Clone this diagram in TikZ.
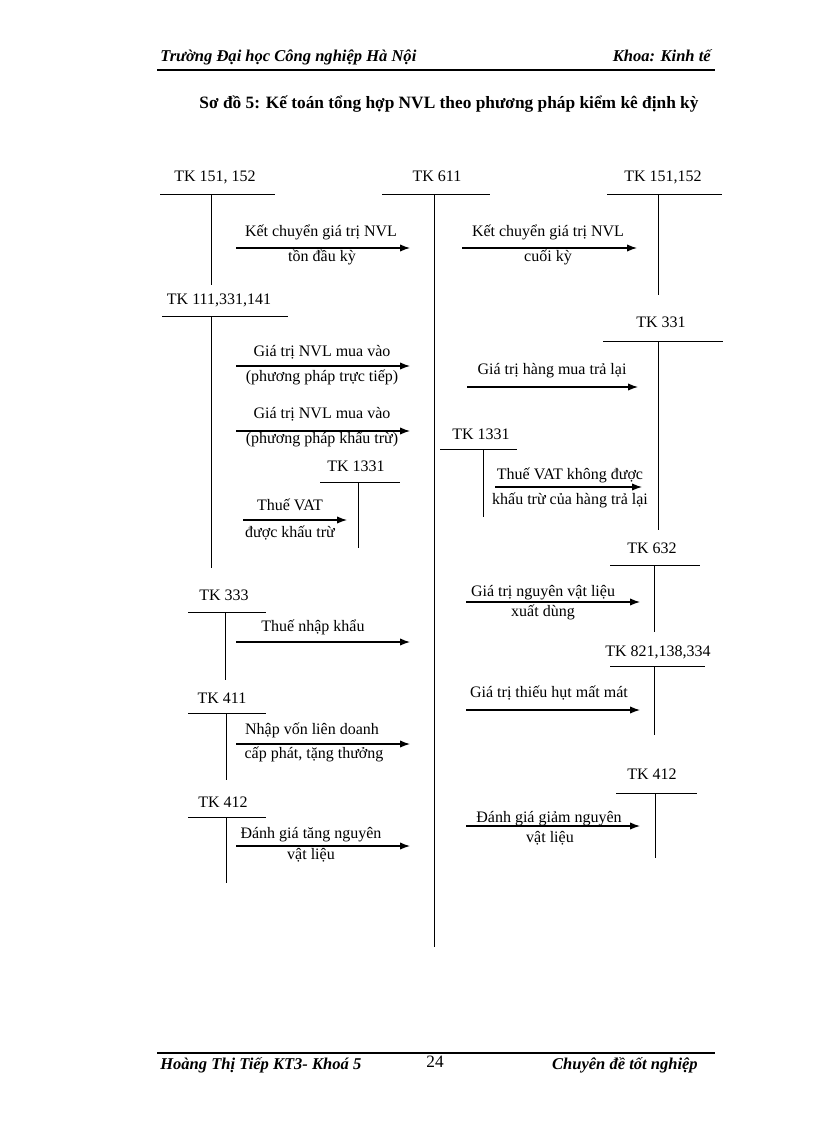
\documentclass[tikz,border=0pt]{standalone}
\usepackage{fontspec}
\setmainfont{Liberation Serif}
\usetikzlibrary{arrows.meta}
\begin{document}
\begin{tikzpicture}[x=0.75pt,y=-0.75pt,
  lbl/.style={font=\fontsize{12}{14}\selectfont, inner sep=0pt, text height=8.5pt, text depth=2.5pt},
  hdr/.style={font=\fontsize{12.4}{14}\selectfont\bfseries\itshape, inner sep=0pt, text height=8.5pt, text depth=2.5pt},
  ttl/.style={font=\fontsize{13}{15}\selectfont\bfseries, inner sep=0pt, text height=9pt, text depth=3pt},
  acc/.style={line width=0.75pt},
  rule/.style={line width=1.6pt},
  arr/.style={line width=0.9pt,-{Latex[length=7.5pt,width=5.5pt]}}]
\useasboundingbox (0,0) rectangle (816,1123);
% header / footer
\node[hdr,anchor=west] (hl) at (160,58) {Trường Đại học Công nghiệp Hà Nội};
\node[hdr,anchor=east] (hr) at (711,58) {Khoa: Kinh tế};
\draw[rule] (157,70) -- (715,70);
\node[ttl] (title) at (449,105) {Sơ đồ 5: Kế toán tổng hợp NVL theo phương pháp kiểm kê định kỳ};
\draw[rule] (157,1053) -- (715,1053);
\node[hdr,anchor=west] (fl) at (160,1065) {Hoàng Thị Tiếp KT3- Khoá 5};
\node[lbl,font=\fontsize{13}{15}\selectfont] (pg) at (435,1063) {24};
\node[hdr,anchor=east] (fr) at (698,1065) {Chuyên đề tốt nghiệp};

% T-accounts
\node[lbl] (t1) at (215,178) {TK 151, 152};
\draw[acc] (160,195) -- (275,195) (211,195) -- (211,285);
\node[lbl] (t2) at (437,178) {TK 611};
\draw[acc] (382,195) -- (490,195) (434,195) -- (434,947);
\node[lbl] (t3) at (663,178) {TK 151,152};
\draw[acc] (607,195) -- (722,195) (658,195) -- (658,295);
\node[lbl] (t4) at (219,300) {TK 111,331,141};
\draw[acc] (162,316) -- (288,316) (211,316) -- (211,568);
\node[lbl] (t5) at (356,467) {TK 1331};
\draw[acc] (320,482) -- (400,482) (358,482) -- (358,548);
\node[lbl] (t6) at (661,323) {TK 331};
\draw[acc] (603,341) -- (723,341) (658,341) -- (658,530);
\node[lbl] (t7) at (481,435) {TK 1331};
\draw[acc] (440,449) -- (517,449) (483,449) -- (483,517);
\node[lbl] (t8) at (652,549) {TK 632};
\draw[acc] (610,565) -- (700,565) (654,565) -- (654,632);
\node[lbl] (t9) at (224,596) {TK 333};
\draw[acc] (188,612) -- (266,612) (225,612) -- (225,680);
\node[lbl] (t10) at (222,699) {TK 411};
\draw[acc] (188,713) -- (266,713) (226,713) -- (226,780);
\node[lbl] (t11) at (223,803) {TK 412};
\draw[acc] (188,817) -- (266,817) (226,817) -- (226,883);
\node[lbl] (t12) at (658,652) {TK 821,138,334};
\draw[acc] (610,666) -- (705,666) (654,666) -- (654,735);
\node[lbl] (t13) at (652,775) {TK 412};
\draw[acc] (616,793) -- (697,793) (655,793) -- (655,858);

% arrows: start/end coordinates
\coordinate (a1s) at (236,248); \coordinate (a1e) at (410,248);
\coordinate (a2s) at (462,248); \coordinate (a2e) at (637,248);
\coordinate (a3s) at (236,366); \coordinate (a3e) at (410,366);
\coordinate (a4s) at (236,431); \coordinate (a4e) at (410,431);
\coordinate (a5s) at (243,520); \coordinate (a5e) at (347,520);
\coordinate (a6s) at (467,387); \coordinate (a6e) at (638,387);
\coordinate (a7s) at (495,487); \coordinate (a7e) at (642,487);
\coordinate (a8s) at (466,602); \coordinate (a8e) at (640,602);
\coordinate (a9s) at (236,642); \coordinate (a9e) at (410,642);
\coordinate (a10s) at (236,744); \coordinate (a10e) at (410,744);
\coordinate (a11s) at (236,846); \coordinate (a11e) at (410,846);
\coordinate (a12s) at (466,710); \coordinate (a12e) at (640,710);
\coordinate (a13s) at (466,826); \coordinate (a13e) at (640,826);
\foreach \i in {1,...,13} {\draw[arr] (a\i s) -- (a\i e);}

% arrow labels
\node[lbl] (l1a) at (321,233) {Kết chuyển giá trị NVL};
\node[lbl] (l1b) at (322,258) {tồn đầu kỳ};
\node[lbl] (l2a) at (548,233) {Kết chuyển giá trị NVL};
\node[lbl] (l2b) at (548,258) {cuối kỳ};
\node[lbl] (l3a) at (322,352) {Giá trị NVL mua vào};
\node[lbl] (l3b) at (322,377) {(phương pháp trực tiếp)};
\node[lbl] (l4a) at (322,414) {Giá trị NVL mua vào};
\node[lbl] (l4b) at (322,439) {(phương pháp khấu trừ)};
\node[lbl] (l5a) at (290,506) {Thuế VAT};
\node[lbl] (l5b) at (290,533) {được khấu trừ};
\node[lbl] (l6) at (552,370) {Giá trị hàng mua trả lại};
\node[lbl] (l7a) at (570,475) {Thuế VAT không được};
\node[lbl] (l7b) at (570,500) {khấu trừ của hàng trả lại};
\node[lbl] (l8a) at (543,592) {Giá trị nguyên vật liệu};
\node[lbl] (l8b) at (543,612) {xuất dùng};
\node[lbl] (l9) at (313,627) {Thuế nhập khẩu};
\node[lbl] (l10a) at (312,730) {Nhập vốn liên doanh};
\node[lbl] (l10b) at (314,754) {cấp phát, tặng thưởng};
\node[lbl] (l11a) at (311,834) {Đánh giá tăng nguyên};
\node[lbl] (l11b) at (311,855) {vật liệu};
\node[lbl] (l12) at (549,693) {Giá trị thiếu hụt mất mát};
\node[lbl] (l13a) at (549,818) {Đánh giá giảm nguyên};
\node[lbl] (l13b) at (550,838) {vật liệu};
\end{tikzpicture}
\end{document}
